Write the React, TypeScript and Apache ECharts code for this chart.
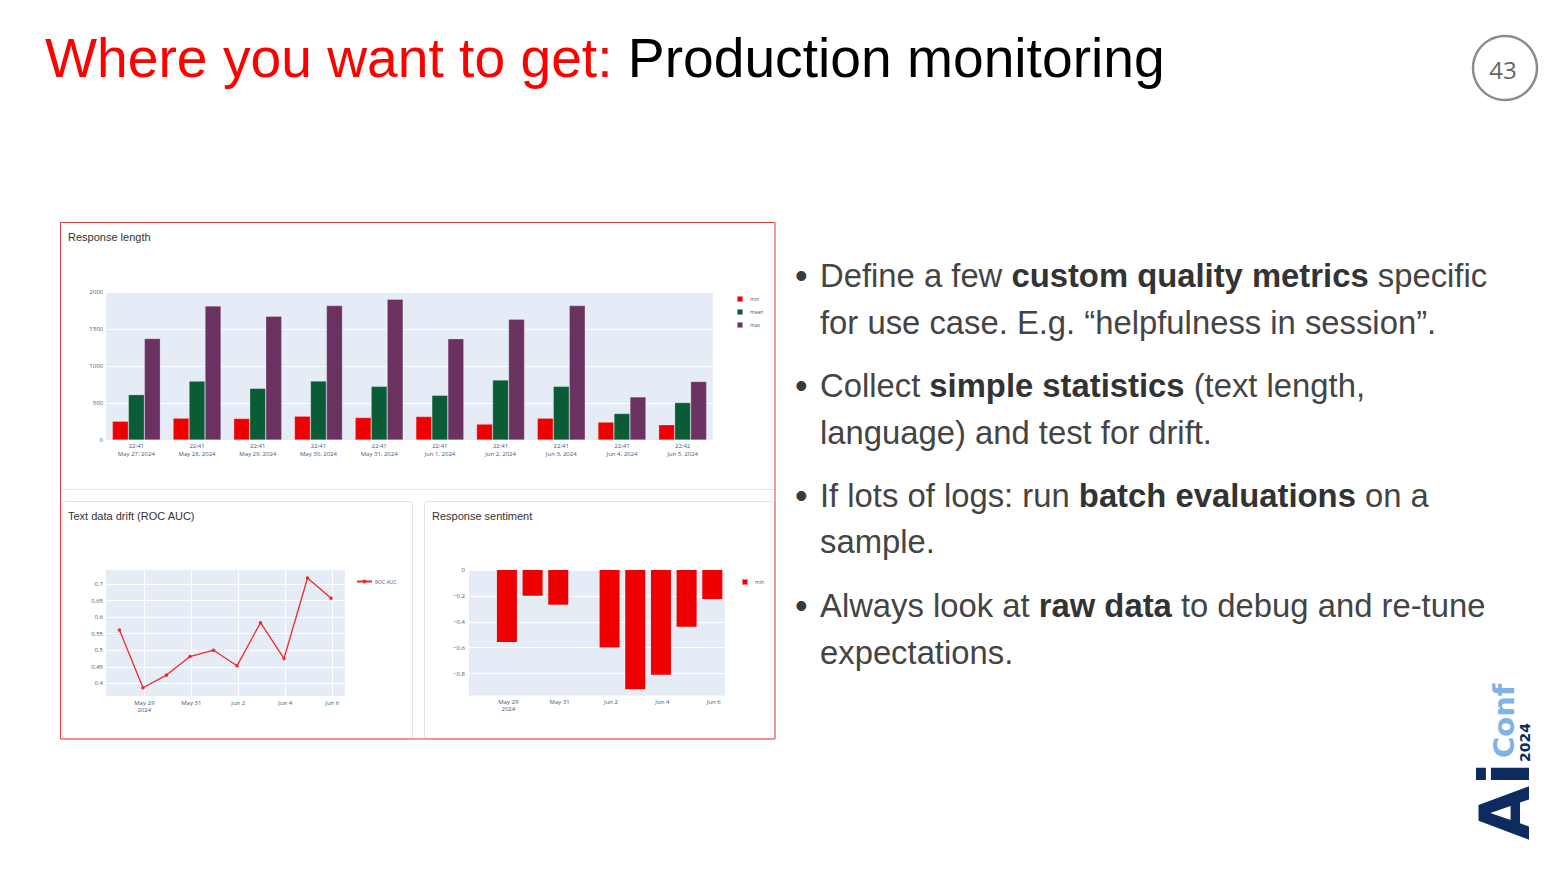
import React, { useEffect, useRef } from "react";
import * as echarts from "echarts";

// ---------- Data ----------
const lengthTimes = ["22:41", "22:41", "22:41", "22:41", "22:41", "22:41", "22:41", "22:41", "22:41", "22:42"];
const lengthDates = ["May 27, 2024", "May 28, 2024", "May 29, 2024", "May 30, 2024", "May 31, 2024", "Jun 1, 2024", "Jun 2, 2024", "Jun 3, 2024", "Jun 4, 2024", "Jun 5, 2024"];
const lengthMin = [255, 295, 291, 322, 304, 318, 215, 295, 242, 206];
const lengthMean = [613, 796, 698, 796, 725, 604, 810, 725, 358, 506];
const lengthMax = [1373, 1812, 1673, 1816, 1902, 1369, 1633, 1816, 582, 792];

const runTimes = [
  "2024-05-27T22:41:00Z", "2024-05-28T22:41:00Z", "2024-05-29T22:41:00Z", "2024-05-30T22:41:00Z", "2024-05-31T22:41:00Z",
  "2024-06-01T22:41:00Z", "2024-06-02T22:41:00Z", "2024-06-03T22:41:00Z", "2024-06-04T22:41:00Z", "2024-06-05T22:41:00Z",
];
const driftRocAuc = [0.561, 0.387, 0.425, 0.481, 0.5, 0.453, 0.583, 0.475, 0.718, 0.657];
const driftTicks = [0.4, 0.45, 0.5, 0.55, 0.6, 0.65, 0.7];
const driftRange = { xMin: "2024-05-27T08:56:00Z", xMax: "2024-06-06T12:57:00Z", yMin: 0.362, yMax: 0.742 };

const sentimentMin = [0, -0.557, -0.199, -0.268, 0, -0.599, -0.921, -0.81, -0.439, -0.225];
const sentimentTicks = [0, -0.2, -0.4, -0.6, -0.8];
const sentimentRange = { xMin: "2024-05-27T11:14:00Z", xMax: "2024-06-06T10:34:00Z", yMin: -0.97, yMax: 0 };

const dateTickValues = ["2024-05-29T00:00:00Z", "2024-05-31T00:00:00Z", "2024-06-02T00:00:00Z", "2024-06-04T00:00:00Z", "2024-06-06T00:00:00Z"];
const dateTickLabels = ["May 29\n2024", "May 31", "Jun 2", "Jun 4", "Jun 6"];

const bullets: [string, boolean][][][] = [
  [
    [["Define a few ", false], ["custom quality metrics", true], [" specific", false]],
    [["for use case. E.g. “helpfulness in session”.", false]],
  ],
  [
    [["Collect ", false], ["simple statistics", true], [" (text length,", false]],
    [["language) and test for drift.", false]],
  ],
  [
    [["If lots of logs: run ", false], ["batch evaluations", true], [" on a", false]],
    [["sample.", false]],
  ],
  [
    [["Always look at ", false], ["raw data", true], [" to debug and re-tune", false]],
    [["expectations.", false]],
  ],
];

// ---------- Styles ----------
const RED = "#ee0000";
const GREEN = "#0a5c36";
const PURPLE = "#6b3261";
const PLOT_BG = "#E5ECF6";
const TICK = "#46587a";
const TICK_FONT = "Open Sans";

export default function App() {
  const ref = useRef<HTMLDivElement>(null);

  useEffect(() => {
    if (!ref.current) return;
    const chart = echarts.init(ref.current, undefined, { renderer: "svg" });

    const lengthCategories = lengthTimes.map((t, i) => `${t}\n${lengthDates[i]}`);
    const tickVals = dateTickValues.map((d) => Date.parse(d));
    const tickFormatter = (v: number) => {
      const i = tickVals.findIndex((t) => Math.abs(t - v) < 1000);
      return i >= 0 ? dateTickLabels[i] : "";
    };
    const driftData = runTimes.map((t, i) => [Date.parse(t), driftRocAuc[i]]);
    const sentimentData = runTimes.map((t, i) => [Date.parse(t), sentimentMin[i]]);

    const tickLabel = { fontSize: 6, color: TICK, fontFamily: TICK_FONT };
    const hidden = { show: false };
    const white = { show: true, lineStyle: { color: "#ffffff", width: 1 } };

    const BF = 32.8;
    const bulletGraphics: any[] = [];
    const lineYs = [[275, 322], [385, 432], [495, 541], [605, 652]];
    bullets.forEach((b, bi) => {
      bulletGraphics.push({
        type: "text", x: 795, y: lineYs[bi][0],
        style: { text: "•", fontSize: 36, fontFamily: "Liberation Sans", fill: "#3a3a3a", align: "left", verticalAlign: "middle" },
      });
      b.forEach((line, li) => {
        const text = line.map(([s, bold]) => `{${bold ? "b" : "n"}|${s}}`).join("");
        bulletGraphics.push({
          type: "text", x: 820, y: lineYs[bi][li],
          style: {
            text, align: "left", verticalAlign: "middle",
            rich: {
              n: { fontSize: BF, fontFamily: "Liberation Sans", fill: "#444444" },
              b: { fontSize: BF, fontFamily: "Liberation Sans", fontWeight: "bold", fill: "#333333" },
            },
          },
        });
      });
    });

    const option: any = {
      animation: false,
      backgroundColor: "#ffffff",
      grid: [
        { left: 106, top: 292, width: 607, height: 148, show: true, backgroundColor: PLOT_BG, borderWidth: 0 },
        { left: 106, top: 570, width: 239, height: 126, show: true, backgroundColor: PLOT_BG, borderWidth: 0 },
        { left: 469, top: 570, width: 256, height: 125.5, show: true, backgroundColor: PLOT_BG, borderWidth: 0 },
      ],
      xAxis: [
        {
          gridIndex: 0, type: "category", data: lengthCategories,
          axisLine: hidden, axisTick: hidden, splitLine: hidden,
          axisLabel: { ...tickLabel, interval: 0, lineHeight: 8, margin: 2 },
        },
        {
          gridIndex: 1, type: "value", min: Date.parse(driftRange.xMin), max: Date.parse(driftRange.xMax),
          axisLine: hidden, axisTick: { show: false, customValues: tickVals },
          axisLabel: { ...tickLabel, customValues: tickVals, formatter: tickFormatter, lineHeight: 7, margin: 3 },
          splitLine: white,
        },
        {
          gridIndex: 2, type: "value", min: Date.parse(sentimentRange.xMin), max: Date.parse(sentimentRange.xMax),
          axisLine: hidden, axisTick: { show: false, customValues: tickVals },
          axisLabel: { ...tickLabel, customValues: tickVals, formatter: tickFormatter, lineHeight: 7, margin: 3 },
          splitLine: hidden,
        },
      ],
      yAxis: [
        {
          gridIndex: 0, type: "value", min: 0, max: 2000, interval: 500,
          axisLine: hidden, axisTick: hidden, splitLine: white,
          axisLabel: { ...tickLabel, margin: 3, formatter: (v: number) => String(v) },
        },
        {
          gridIndex: 1, type: "value", min: driftRange.yMin, max: driftRange.yMax,
          axisLine: hidden, axisTick: { show: false, customValues: driftTicks },
          axisLabel: { ...tickLabel, margin: 3, customValues: driftTicks, formatter: (v: number) => String(+v.toFixed(2)) },
          splitLine: white,
        },
        {
          gridIndex: 2, type: "value", min: sentimentRange.yMin, max: sentimentRange.yMax,
          axisLine: hidden, axisTick: { show: false, customValues: sentimentTicks },
          axisLabel: {
            ...tickLabel, margin: 4, customValues: sentimentTicks,
            formatter: (v: number) => (Math.abs(v) < 1e-9 ? "0" : "−" + String(+Math.abs(v).toFixed(1))),
          },
          splitLine: white,
        },
      ],
      legend: [
        {
          left: 731, top: 290, orient: "vertical", icon: "rect", itemWidth: 6, itemHeight: 6, itemGap: 5,
          data: ["min", "mean", "max"], selectedMode: false,
          textStyle: { fontSize: 5, color: TICK, fontFamily: TICK_FONT, padding: [0, 0, 0, 2] },
        },
        {
          left: 351, top: 574, orient: "vertical", itemWidth: 15, itemHeight: 5,
          data: ["ROC AUC"], selectedMode: false,
          textStyle: { fontSize: 5, color: TICK, fontFamily: TICK_FONT, padding: [0, 0, 0, -2] },
        },
        {
          left: 736, top: 573, orient: "vertical", icon: "rect", itemWidth: 6, itemHeight: 6,
          data: [{ name: "min", itemStyle: { color: RED } }], selectedMode: false,
          textStyle: { fontSize: 5, color: TICK, fontFamily: TICK_FONT, padding: [0, 0, 0, 2] },
        },
      ],
      series: [
        {
          type: "bar", name: "min", xAxisIndex: 0, yAxisIndex: 0, data: lengthMin,
          barGap: "0%", barCategoryGap: "21%",
          itemStyle: { color: RED, borderColor: "rgba(255,255,255,0.5)", borderWidth: 0.5 },
        },
        {
          type: "bar", name: "mean", xAxisIndex: 0, yAxisIndex: 0, data: lengthMean,
          barGap: "0%", barCategoryGap: "21%",
          itemStyle: { color: GREEN, borderColor: "rgba(255,255,255,0.5)", borderWidth: 0.5 },
        },
        {
          type: "bar", name: "max", xAxisIndex: 0, yAxisIndex: 0, data: lengthMax,
          barGap: "0%", barCategoryGap: "21%",
          itemStyle: { color: PURPLE, borderColor: "rgba(255,255,255,0.5)", borderWidth: 0.5 },
        },
        {
          type: "line", name: "ROC AUC", xAxisIndex: 1, yAxisIndex: 1, data: driftData,
          symbol: "circle", symbolSize: 3.5, showSymbol: true,
          lineStyle: { color: "#ee2a2a", width: 1.3 }, itemStyle: { color: "#ee2a2a" },
        },
        {
          type: "bar", name: "min", xAxisIndex: 2, yAxisIndex: 2, data: sentimentData,
          barWidth: 20, itemStyle: { color: RED },
        },
      ],
      graphic: [
        {
          type: "text", x: 45, y: 58,
          style: {
            text: "{r|Where you want to get: }{k|Production monitoring}",
            align: "left", verticalAlign: "middle",
            rich: {
              r: { fontSize: 55.2, fontFamily: "Liberation Sans", fill: "#ff0000" },
              k: { fontSize: 55.2, fontFamily: "Liberation Sans", fill: "#000000" },
            },
          },
        },
        { type: "circle", shape: { cx: 1505, cy: 68, r: 32 }, style: { fill: "none", stroke: "#8c8c8c", lineWidth: 2.5 } },
        { type: "text", x: 1503, y: 69, style: { text: "43", fontSize: 24, fontFamily: "Open Sans", fill: "#666666", align: "center", verticalAlign: "middle" } },
        { type: "line", shape: { x1: 62, y1: 489.5, x2: 775, y2: 489.5 }, style: { stroke: "#e6e6e6", lineWidth: 1 } },
        { type: "rect", shape: { x: 62.5, y: 501.5, width: 350, height: 237.5, r: 3 }, style: { fill: "none", stroke: "#e2e2e2", lineWidth: 1 } },
        { type: "rect", shape: { x: 424.5, y: 501.5, width: 350, height: 237.5, r: 3 }, style: { fill: "none", stroke: "#e2e2e2", lineWidth: 1 } },
        { type: "text", x: 68, y: 237, style: { text: "Response length", fontSize: 11, fontFamily: "Liberation Sans", fill: "#333333", align: "left", verticalAlign: "middle" } },
        { type: "text", x: 68, y: 516, style: { text: "Text data drift (ROC AUC)", fontSize: 11, fontFamily: "Liberation Sans", fill: "#333333", align: "left", verticalAlign: "middle" } },
        { type: "text", x: 432, y: 516, style: { text: "Response sentiment", fontSize: 11, fontFamily: "Liberation Sans", fill: "#333333", align: "left", verticalAlign: "middle" } },
        { type: "rect", z: 100, shape: { x: 60.5, y: 222.5, width: 714.5, height: 516.5 }, style: { fill: "none", stroke: "#e0393e", lineWidth: 1 } },
        ...bulletGraphics,
        { type: "text", x: 1505, y: 840, rotation: Math.PI / 2, style: { text: "Ai", fontSize: 70, fontWeight: "bold", fontFamily: "DejaVu Sans", fill: "#0d2b5e", align: "left", verticalAlign: "middle" } },
        { type: "text", x: 1504, y: 758, rotation: Math.PI / 2, style: { text: "Conf", fontSize: 29, fontWeight: "bold", fontFamily: "DejaVu Sans", fill: "#7db3e6", align: "left", verticalAlign: "middle" } },
        { type: "text", x: 1525, y: 762, rotation: Math.PI / 2, style: { text: "2024", fontSize: 14, fontWeight: "bold", fontFamily: "DejaVu Sans", fill: "#0d2b5e", align: "left", verticalAlign: "middle" } },
      ],
    };

    chart.setOption(option);
    return () => chart.dispose();
  }, []);

  return <div ref={ref} style={{ position: "fixed", left: 0, top: 0, width: 1560, height: 877 }} />;
}
